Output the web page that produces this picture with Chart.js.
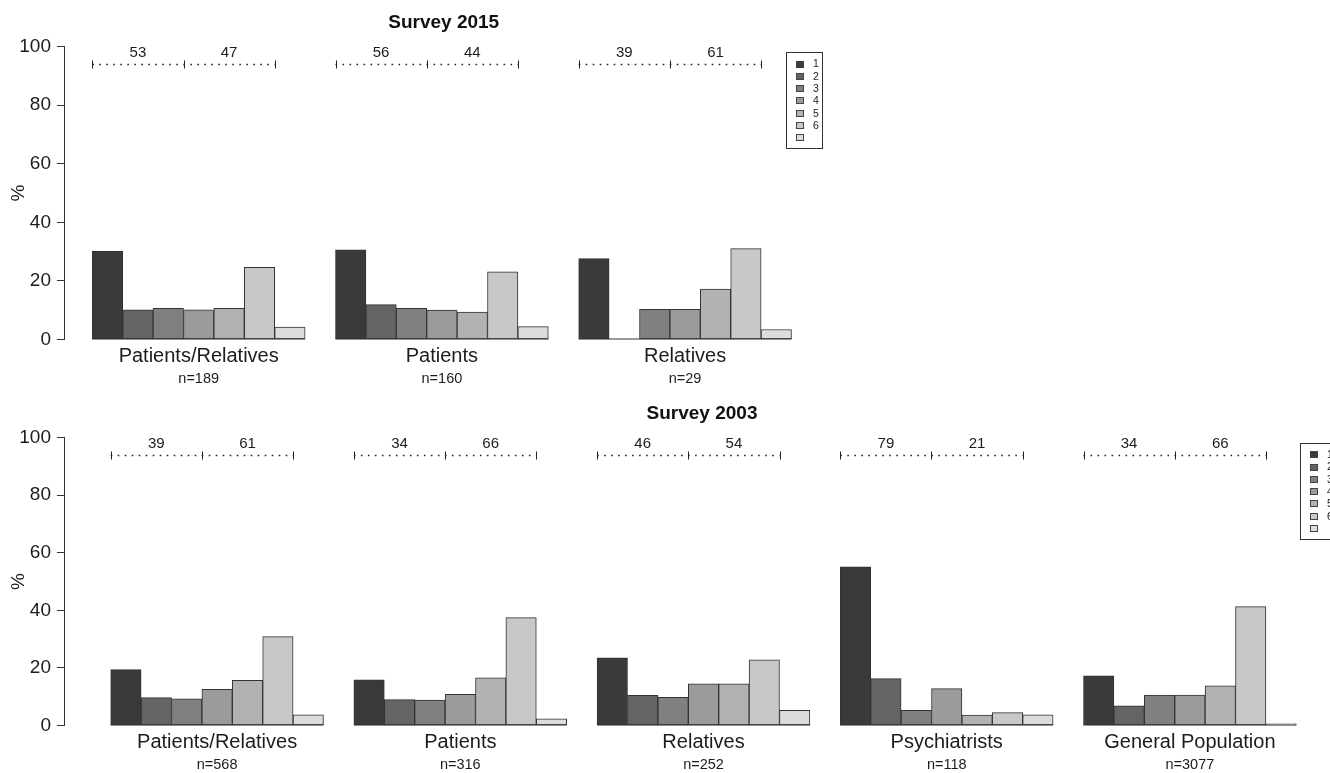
<!DOCTYPE html>
<html><head><meta charset="utf-8">
<script src="https://cdn.jsdelivr.net/npm/chart.js@4.4.1/dist/chart.umd.min.js"></script>
<style>
html,body{margin:0;padding:0;background:#fff;width:1330px;height:773px;overflow:hidden;position:relative;}
canvas{position:absolute;left:0;}
#c1{top:0px}
#c2{top:390px}
</style></head><body>
<canvas id="c1" width="1330" height="395"></canvas>
<canvas id="c2" width="1330" height="383"></canvas>
<script>
// ---------------- data ----------------
const legendLabels = ['1','2','3','4','5','6',''];
const yTicks = [0, 20, 40, 60, 80, 100];

const groups2015 = ['Patients/Relatives', 'Patients', 'Relatives'];
const n2015 = [189, 160, 29];
const split2015 = [[53, 47], [56, 44], [39, 61]];
const patRel2015    = [30.2, 10.1, 10.6, 10.1, 10.6, 24.6, 4.2];
const patients2015  = [30.6, 11.9, 10.6, 10.0, 9.4, 23.1, 4.4];
const relatives2015 = [27.6, 0, 10.3, 10.3, 17.2, 31.0, 3.4];

const groups2003 = ['Patients/Relatives', 'Patients', 'Relatives', 'Psychiatrists', 'General Population'];
const n2003 = [568, 316, 252, 118, 3077];
const split2003 = [[39, 61], [34, 66], [46, 54], [79, 21], [34, 66]];
const patRel2003        = [19.4, 9.7, 9.3, 12.6, 15.7, 30.9, 3.7];
const patients2003      = [15.9, 9.0, 8.8, 10.8, 16.6, 37.5, 2.3];
const relatives2003     = [23.5, 10.5, 9.8, 14.5, 14.5, 22.8, 5.3];
const psychiatrists2003 = [55.1, 16.3, 5.3, 12.8, 3.6, 4.5, 3.7];
const genPop2003        = [17.3, 6.8, 10.6, 10.6, 13.8, 41.3, 0.6];

const bracketLevel = 94;
const bracketLabelLevel = 98;

// ---------------- style / layout ----------------
const FONT = '"Liberation Sans", Arial, Helvetica, sans-serif';
const TXT = '#1c1c1c';
const barColors = ['#3a3a3a', '#646464', '#808080', '#9b9b9b', '#b2b2b2', '#c8c8c8', '#dcdcdc'];
const SLOT = 30.4;      // px per bar
const AXIS_X = 64;      // y-axis position
const W = 1330;

const decor = {
  id: 'decor',
  afterDraw(chart, args, o) {
    const ctx = chart.ctx, xs = chart.scales.x, ys = chart.scales.y;
    const ca = chart.chartArea;
    ctx.save();
    // baselines per panel (coincide with bar bottom borders)
    ctx.strokeStyle = '#333'; ctx.lineWidth = 1;
    o.groups.forEach((g, p) => {
      const x0 = xs.getPixelForValue(p * 8 - 0.5), x1 = xs.getPixelForValue(p * 8 + 6.5);
      const y0 = ys.getPixelForValue(0) - 0.5;
      ctx.beginPath(); ctx.moveTo(x0, y0); ctx.lineTo(x1, y0); ctx.stroke();
    });
    // brackets
    o.groups.forEach((g, p) => {
      const xa = xs.getPixelForValue(p * 8 - 0.5), xm = xs.getPixelForValue(p * 8 + 2.5), xb = xs.getPixelForValue(p * 8 + 5.5);
      const yb = Math.round(ys.getPixelForValue(bracketLevel)) + 0.5;
      ctx.strokeStyle = '#222'; ctx.lineWidth = 1.3;
      ctx.setLineDash([1.6, 5.4]);
      ctx.beginPath(); ctx.moveTo(xa, yb); ctx.lineTo(xb, yb); ctx.stroke();
      ctx.setLineDash([]); ctx.lineWidth = 1;
      [xa, xm, xb].forEach(x => { ctx.beginPath(); ctx.moveTo(Math.round(x) + 0.5, yb - 4); ctx.lineTo(Math.round(x) + 0.5, yb + 4); ctx.stroke(); });
      ctx.fillStyle = TXT; ctx.font = '15px ' + FONT; ctx.textAlign = 'center'; ctx.textBaseline = 'middle';
      const yl = ys.getPixelForValue(bracketLabelLevel);
      ctx.fillText(String(o.splits[p][0]), (xa + xm) / 2, yl);
      ctx.fillText(String(o.splits[p][1]), (xm + xb) / 2, yl);
      // group labels
      const xc = xs.getPixelForValue(p * 8 + 3);
      ctx.font = '20px ' + FONT;
      ctx.fillText(g, xc, ca.bottom + 16.5);
      ctx.font = '14.5px ' + FONT;
      ctx.fillText('n=' + o.ns[p], xc, ca.bottom + 39.8);
    });
    // title
    ctx.font = 'bold 19px ' + FONT; ctx.textAlign = 'center'; ctx.textBaseline = 'middle'; ctx.fillStyle = '#111';
    ctx.fillText(o.title, o.titleX, o.titleY);
    // legend
    const lx = o.legendX, ly = o.legendY;
    ctx.strokeStyle = '#333'; ctx.lineWidth = 1;
    ctx.strokeRect(Math.round(lx) + 0.5, Math.round(ly) + 0.5, 36, 96);
    ctx.font = '10.5px ' + FONT; ctx.textAlign = 'left';
    legendLabels.forEach((lab, i) => {
      const cy = ly + 12 + i * 12.3;
      ctx.fillStyle = barColors[i];
      ctx.fillRect(lx + 10, Math.round(cy - 3.5), 8, 7);
      ctx.strokeStyle = '#444';
      ctx.strokeRect(lx + 10.5, Math.round(cy - 3.5) + 0.5, 7, 6);
      ctx.fillStyle = TXT;
      ctx.fillText(lab, lx + 27, cy + 0.5);
    });
    ctx.restore();
  }
};

function makeRow(id, cfg) {
  const points = [], colors = [];
  cfg.series.forEach((vals, p) => vals.forEach((v, b) => {
    points.push({ x: p * 8 + b, y: v });
    colors.push(barColors[b]);
  }));
  const canvas = document.getElementById(id);
  const xMin = -0.5 - (cfg.firstBarLeft - AXIS_X) / SLOT;
  const xMax = xMin + (W - AXIS_X) / SLOT;
  return new Chart(canvas, {
    type: 'bar',
    data: { datasets: [{
      data: points,
      backgroundColor: colors,
      borderColor: '#333',
      borderWidth: 1,
      borderSkipped: false,
      barPercentage: 1,
      categoryPercentage: 1,
      clip: false
    }] },
    options: {
      responsive: false,
      animation: false,
      events: [],
      layout: { padding: { top: cfg.padTop, bottom: canvas.height - cfg.chartBottom, left: 0, right: 0 } },
      plugins: {
        legend: { display: false },
        tooltip: { enabled: false },
        decor: {
          groups: cfg.groups, ns: cfg.ns, splits: cfg.splits,
          title: cfg.title, titleX: cfg.titleX, titleY: cfg.titleY,
          legendX: cfg.legendX, legendY: cfg.legendY
        }
      },
      scales: {
        x: {
          type: 'linear', min: xMin, max: xMax, offset: false, bounds: 'data', grace: 0, display: false,
          afterBuildTicks: s => { s.ticks = points.map(pt => ({ value: pt.x })); }
        },
        y: {
          min: 0, max: 100,
          afterFit: s => { s.width = AXIS_X; },
          afterBuildTicks: s => { s.ticks = yTicks.map(v => ({ value: v })); },
          ticks: { color: TXT, font: { family: FONT, size: 19 }, padding: 6 },
          grid: { drawOnChartArea: false, drawTicks: true, tickLength: 7, color: '#333', lineWidth: 1 },
          border: { display: true, color: '#333', width: 1 },
          title: { display: true, text: '%', color: TXT, font: { family: FONT, size: 19 }, padding: { top: 7, bottom: 0 } }
        }
      }
    },
    plugins: [decor]
  });
}

makeRow('c1', {
  title: 'Survey 2015', titleX: 443.7, titleY: 22.7,
  groups: groups2015, ns: n2015, splits: split2015,
  series: [patRel2015, patients2015, relatives2015],
  firstBarLeft: 92.3, padTop: 46.5, chartBottom: 339.5,
  legendX: 786, legendY: 52
});
makeRow('c2', {
  title: 'Survey 2003', titleX: 702, titleY: 24,
  groups: groups2003, ns: n2003, splits: split2003,
  series: [patRel2003, patients2003, relatives2003, psychiatrists2003, genPop2003],
  firstBarLeft: 110.7, padTop: 47.7, chartBottom: 335.5,
  legendX: 1300, legendY: 52.7
});
</script>
</body></html>
